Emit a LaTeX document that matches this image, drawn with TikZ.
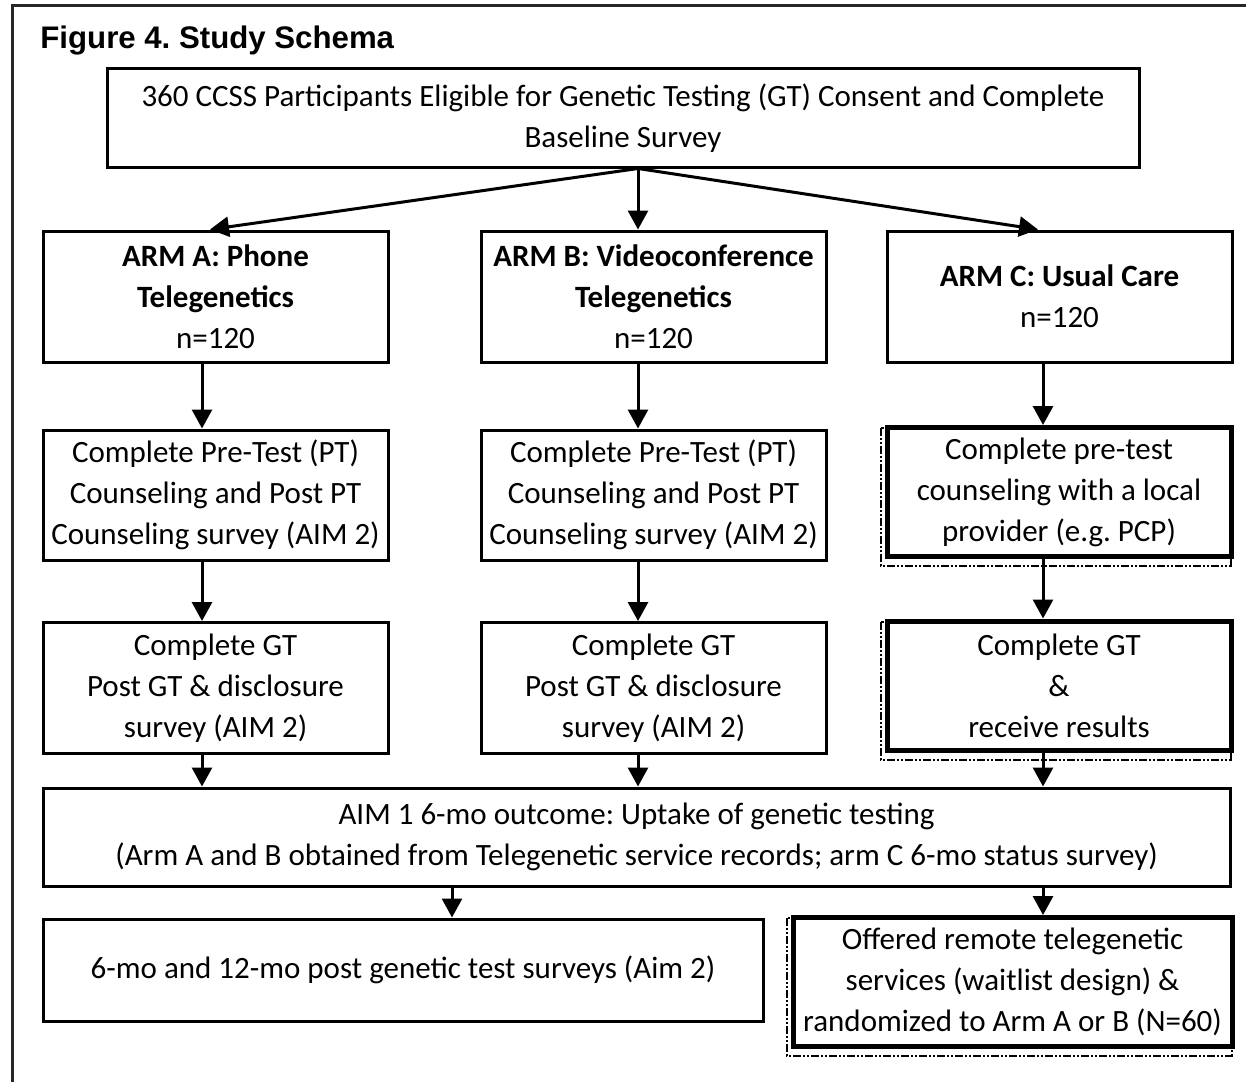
\documentclass[tikz,border=0pt]{standalone}
\usepackage{fontspec}
\newfontfamily\calfont{Carlito}
\newfontfamily\titlefont{Liberation Sans}
\usetikzlibrary{arrows.meta}
\frenchspacing
\begin{document}
\begin{tikzpicture}[x=0.5pt,y=-0.5pt,
 box/.style={draw, line width=1.5pt, inner sep=0pt, align=center, font=\calfont\fontsize{15.5}{20.5}\selectfont},
 thickbox/.style={box, line width=2.5pt},
 sz/.style 2 args={minimum width=#1*0.5pt, minimum height=#2*0.5pt},
 ddot/.style={line width=1pt, dash pattern=on 4pt off 1pt on 1pt off 1pt on 1pt off 1pt},
 arr/.style={line width=1.5pt, -{Triangle[length=9.5pt,width=10pt]}},
 frame/.style={line width=1.5pt, black!85}
]
\useasboundingbox (0,0) rectangle (1246,1081);
\draw[frame] (12,1085) -- (12,6) -- (1250,6);
\node[anchor=base west, inner sep=0pt, font=\titlefont\bfseries\fontsize{15.6}{18}\selectfont] (title) at (40,49) {Figure 4. Study Schema};

\node[box, sz={1032}{98}] (top) at (623,118) {360 CCSS Participants Eligible for Genetic Testing (GT) Consent and Complete\\Baseline Survey};

\node[box, sz={345}{131}] (armA) at (215.5,296.5) {\textbf{ARM A: Phone}\\\textbf{Telegenetics}\\n=120};
\node[box, sz={345}{131}] (armB) at (653.5,296.5) {\textbf{ARM B: Videoconference}\\\textbf{Telegenetics}\\n=120};
\node[box, sz={345}{131}] (armC) at (1059.5,296.5) {\textbf{ARM C: Usual Care}\\n=120};

\node[box, sz={345}{130}] (preA) at (215.5,495) {Complete Pre-Test (PT)\\Counseling and Post PT\\Counseling survey (AIM 2)};
\node[box, sz={345}{130}] (preB) at (653.5,495) {Complete Pre-Test (PT)\\Counseling and Post PT\\Counseling survey (AIM 2)};
\node[thickbox, sz={344}{129}] (preC) at (1059,492) {Complete pre-test\\counseling with a local\\provider (e.g. PCP)};

\node[box, sz={345}{131}] (gtA) at (215.5,688) {Complete GT\\Post GT \& disclosure\\survey (AIM 2)};
\node[box, sz={345}{131}] (gtB) at (653.5,688) {Complete GT\\Post GT \& disclosure\\survey (AIM 2)};
\node[thickbox, sz={344}{129}] (gtC) at (1059,685.5) {Complete GT\\\&\\receive results};

\node[box, sz={1187}{98}] (aim) at (636.5,837) {AIM 1 6-mo outcome: Uptake of genetic testing\\(Arm A and B obtained from Telegenetic service records; arm C 6-mo status survey)};

\node[box, sz={720}{102}] (post) at (403,970) {6-mo and 12-mo post genetic test surveys (Aim 2)};
\node[thickbox, sz={439}{129}] (offer) at (1012.5,982) {Offered remote telegenetic\\services (waitlist design) \&\\randomized to Arm A or B (N=60)};

% dash-dot companions of the heavy borders
\foreach \n in {preC,gtC,offer}{
  \draw[ddot] ([xshift=-1.7pt,yshift=-1.5pt]\n.north west) rectangle ([xshift=-1.5pt,yshift=-3.5pt]\n.south east);
}

\coordinate (cA) at (202,0);
\coordinate (cB) at (638,0);
\coordinate (cC) at (1043,0);
\coordinate (tA) at (210,0);
\coordinate (tC) at (1038,0);
\coordinate (cP) at (452,0);

\draw[arr] (top.south -| cB) -- (armA.north -| tA);
\draw[arr] (top.south -| cB) -- (armB.north -| cB);
\draw[arr] (top.south -| cB) -- (armC.north -| tC);

\draw[arr] (armA.south -| cA) -- (preA.north -| cA);
\draw[arr] (preA.south -| cA) -- (gtA.north -| cA);
\draw[arr] (gtA.south -| cA) -- (aim.north -| cA);

\draw[arr] (armB.south -| cB) -- (preB.north -| cB);
\draw[arr] (preB.south -| cB) -- (gtB.north -| cB);
\draw[arr] (gtB.south -| cB) -- (aim.north -| cB);

\draw[arr] (armC.south -| cC) -- (preC.north -| cC);
\draw[arr] (preC.south -| cC) -- (gtC.north -| cC);
\draw[arr] (gtC.south -| cC) -- (aim.north -| cC);

\draw[arr] (aim.south -| cP) -- (post.north -| cP);
\draw[arr] (aim.south -| cC) -- (offer.north -| cC);
\end{tikzpicture}
\end{document}
